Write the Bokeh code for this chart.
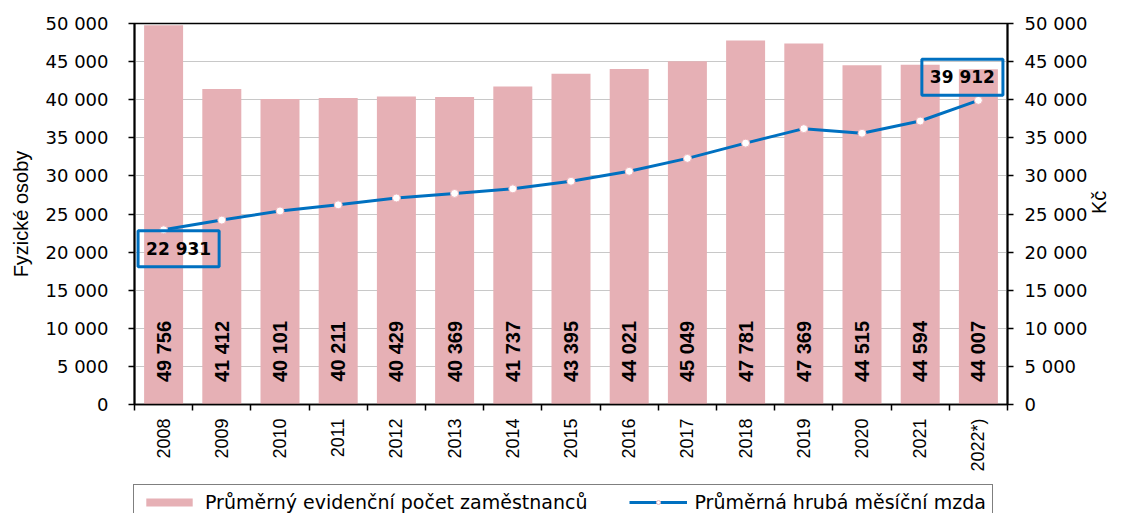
import math
from bokeh.plotting import figure
from bokeh.models import (Range1d, LinearAxis, FixedTicker, Label, Legend,
                          LegendItem, ColumnDataSource)
from bokeh.core.properties import value
from bokeh.embed import file_html
from bokeh.resources import INLINE

# ---------------- data ----------------
years = ["2008", "2009", "2010", "2011", "2012", "2013", "2014", "2015",
         "2016", "2017", "2018", "2019", "2020", "2021", "2022*)"]
employees = [49756, 41412, 40101, 40211, 40429, 40369, 41737, 43395,
             44021, 45049, 47781, 47369, 44515, 44594, 44007]
wages = [22931, 24200, 25400, 26200, 27100, 27700, 28300, 29300,
         30600, 32300, 34300, 36200, 35600, 37200, 39912]
y_ticks = [0, 5000, 10000, 15000, 20000, 25000, 30000, 35000, 40000, 45000, 50000]
y_tick_labels = ["0", "5 000", "10 000", "15 000", "20 000", "25 000",
                 "30 000", "35 000", "40 000", "45 000", "50 000"]
bar_name = "Průměrný evidenční počet zaměstnanců"
line_name = "Průměrná hrubá měsíční mzda"
left_title = "Fyzické osoby"
right_title = "Kč"

BAR_COLOR = "#E6B0B5"
LINE_COLOR = "#0070C0"
MARK_LINE = "#EDB5BB"

def fmt(v):
    return f"{v:,}".replace(",", " ")

idx = list(range(len(years)))
src = ColumnDataSource(dict(
    x=idx, emp=employees, wage=wages,
    emp_lab=[fmt(v) for v in employees],
    base=[0] * len(years),
))

p = figure(width=1124, height=483, output_backend="svg", toolbar_location=None,
           x_range=Range1d(-0.5, len(years) - 0.5),
           y_range=Range1d(y_ticks[0], y_ticks[-1]),
           min_border_left=134, min_border_right=117,
           min_border_top=23, min_border_bottom=79)
p.extra_y_ranges = {"kc": Range1d(y_ticks[0], y_ticks[-1])}

p.outline_line_color = "black"
p.outline_line_width = 1.5
p.xgrid.grid_line_color = None
p.ygrid.ticker = FixedTicker(ticks=y_ticks)
p.ygrid.grid_line_color = "#C8C8C8"
p.ygrid.grid_line_width = 1

# x axis
xax = p.xaxis[0]
xax.ticker = FixedTicker(ticks=idx, minor_ticks=[i - 0.5 for i in range(len(years) + 1)])
xax.major_label_overrides = {i: y for i, y in zip(idx, years)}
xax.major_tick_line_color = None
xax.major_tick_out = 6
xax.major_tick_in = 0
xax.minor_tick_line_color = "black"
xax.minor_tick_out = 6
xax.minor_tick_in = 0
xax.minor_tick_line_width = 1.5
xax.major_label_orientation = math.pi / 2
xax.major_label_standoff = 8
xax.major_label_text_font = "Liberation Sans"
xax.major_label_text_font_size = "18px"
xax.major_label_text_color = "black"
xax.axis_line_color = "black"
xax.axis_line_width = 1.5

# left axis
yax = p.yaxis[0]
yax.ticker = FixedTicker(ticks=y_ticks)
yax.major_label_overrides = {t: l for t, l in zip(y_ticks, y_tick_labels)}
yax.minor_tick_line_color = None
yax.major_tick_out = 6
yax.major_tick_in = 0
yax.major_tick_line_width = 1.5
yax.major_label_standoff = 20
yax.major_label_text_font = "DejaVu Sans"
yax.major_label_text_font_size = "18px"
yax.major_label_text_color = "black"
yax.axis_line_width = 2
yax.axis_line_color = "black"
yax.axis_label = left_title
yax.axis_label_text_font = "Liberation Sans"
yax.axis_label_text_font_size = "20px"
yax.axis_label_text_font_style = "normal"
yax.axis_label_text_color = "black"
yax.axis_label_standoff = 11

# right axis
rax = LinearAxis(y_range_name="kc", ticker=FixedTicker(ticks=y_ticks))
rax.major_label_overrides = {t: l for t, l in zip(y_ticks, y_tick_labels)}
rax.minor_tick_line_color = None
rax.major_tick_out = 6
rax.major_tick_in = 0
rax.major_tick_line_width = 1.5
rax.major_label_standoff = 11
rax.major_label_text_font = "DejaVu Sans"
rax.major_label_text_font_size = "18px"
rax.major_label_text_color = "black"
rax.axis_line_width = 2
rax.axis_line_color = "black"
rax.axis_label = right_title
rax.axis_label_text_font = "Liberation Sans"
rax.axis_label_text_font_size = "20px"
rax.axis_label_text_font_style = "normal"
rax.axis_label_text_color = "black"
rax.axis_label_standoff = 9
try:
    rax.axis_label_orientation = math.pi / 2
except Exception:
    pass
p.add_layout(rax, "right")

# bars
bars = p.vbar(x="x", top="emp", width=0.67, source=src,
              fill_color=BAR_COLOR, line_color=None)

# bar value labels (vertical, near base)
p.text(x="x", y="base", text="emp_lab", source=src, angle=math.pi / 2,
       y_offset=-53, text_align="center", text_baseline="middle",
       text_font=value("Liberation Sans"), text_font_style="bold",
       text_font_size="20px", text_color="black")

# wage line
line = p.line(x="x", y="wage", source=src, y_range_name="kc",
              line_color=LINE_COLOR, line_width=3)
marks = p.scatter(x="x", y="wage", source=src, y_range_name="kc", size=8,
                  fill_color="white", line_color=MARK_LINE, line_width=1)

# boxed value labels for first and last wage
for i, xo, yo in [(0, 15, -19), (len(years) - 1, -16, 23)]:
    p.add_layout(Label(x=idx[i], y=wages[i], y_range_name="kc",
                       x_offset=xo, y_offset=yo, text=fmt(wages[i]),
                       text_align="center", text_baseline="middle",
                       text_font="DejaVu Sans", text_font_style="bold",
                       text_font_size="17px", text_color="black",
                       border_line_color=LINE_COLOR, border_line_width=3,
                       background_fill_color=None, padding=8))

# ---------------- legend strip (second root, below the chart) ----------------
q = figure(width=1124, height=30, output_backend="svg", toolbar_location=None,
           x_range=Range1d(-0.5, len(years) - 0.5),
           y_range=Range1d(1e7, 1e7 + 1),
           min_border=0, min_border_left=0, min_border_right=0,
           min_border_top=0, min_border_bottom=0)
q.axis.visible = False
q.grid.visible = False
q.outline_line_color = None
# legend-only copies of the series (far outside this strip's visible range)
lb = q.vbar(x="x", top="emp", width=0.67, source=src,
            fill_color=BAR_COLOR, line_color=None)
ll = q.line(x="x", y="wage", source=src, line_color=LINE_COLOR, line_width=3)
lm = q.scatter(x="x", y="wage", source=src, size=8, fill_color="white",
               line_color=MARK_LINE, line_width=1)
legend = Legend(items=[LegendItem(label=bar_name, renderers=[lb]),
                       LegendItem(label=line_name, renderers=[ll, lm])],
                location=(133, -7), orientation="horizontal",
                border_line_color="black", border_line_width=1.5,
                padding=6, spacing=42, margin=0,
                glyph_width=58, glyph_height=10, label_height=20,
                label_standoff=7, label_text_font="DejaVu Sans",
                label_text_font_size="19px", label_text_color="black",
                background_fill_color="white")
q.add_layout(legend)

open("out.html", "w").write(file_html([p, q], INLINE))
